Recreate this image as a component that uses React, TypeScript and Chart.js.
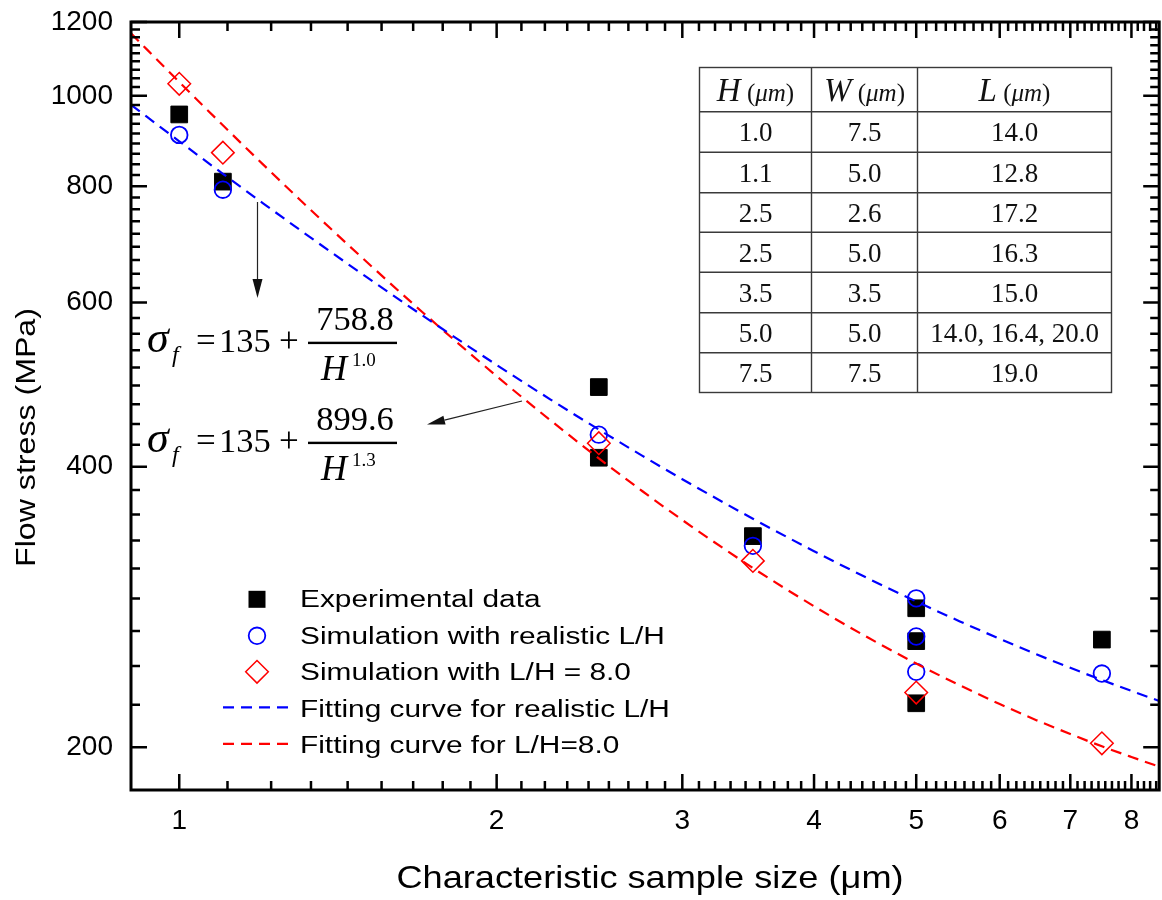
import React, { useEffect, useRef } from 'react';
import { Chart, registerables } from 'chart.js';

Chart.register(...registerables);

// ---------- data ----------
const experimentalH = [1, 1.1, 2.5, 2.5, 3.5, 5, 5, 5, 7.5];
const experimentalStress = [955, 809, 487, 409, 337, 282, 260, 223, 261];

const simRealisticH = [1, 1.1, 2.5, 3.5, 5, 5, 5, 7.5];
const simRealisticStress = [908, 793, 433, 329, 289, 263, 241, 240];

const simLH8H = [1, 1.1, 2.5, 3.5, 5, 7.5];
const simLH8Stress = [1030, 869, 424, 317, 229, 202];

const fitH = [0.9, 1.0, 1.1, 1.2, 1.3, 1.4, 1.5, 1.7, 2.0, 2.25, 2.5, 2.75, 3.0, 3.5, 4.0, 4.5, 5.0, 5.5, 6.0, 6.5, 7.0, 7.5, 8.0, 8.5];
const fitRealisticStress = [978.1, 893.8, 824.8, 767.3, 718.7, 677.0, 640.9, 581.4, 514.4, 472.2, 438.5, 410.9, 387.9, 351.8, 324.7, 303.6, 286.8, 273.0, 261.5, 251.7, 243.4, 236.2, 229.9, 224.3];
const fitLH8Stress = [1166.7, 1034.6, 929.8, 844.7, 774.6, 715.9, 666.1, 586.3, 500.3, 448.5, 408.4, 376.5, 350.7, 311.5, 283.4, 262.3, 246.0, 233.1, 222.6, 213.9, 206.7, 200.5, 195.3, 190.7];

const xMajorTicks = [1, 2, 3, 4, 5, 6, 7, 8];
const yMajorTicks = [200, 400, 600, 800, 1000, 1200];
const xMin = 0.9, xMax = 8.5;
const yMin = 180, yMax = 1200;

const xTitle = 'Characteristic sample size (\u03BCm)';
const yTitle = 'Flow stress (MPa)';

const legendLabels = [
  'Experimental data',
  'Simulation with realistic L/H',
  'Simulation with L/H = 8.0',
  'Fitting curve for realistic L/H',
  'Fitting curve for L/H=8.0',
];

const tableHeaderLetters = ['H', 'W', 'L'];
const tableColH = ['1.0', '1.1', '2.5', '2.5', '3.5', '5.0', '7.5'];
const tableColW = ['7.5', '5.0', '2.6', '5.0', '3.5', '5.0', '7.5'];
const tableColL = ['14.0', '12.8', '17.2', '16.3', '15.0', '14.0, 16.4, 20.0', '19.0'];

const eqConstant = '135';
const eqNumerators = ['758.8', '899.6'];
const eqExponents = ['1.0', '1.3'];

// ---------- style ----------
const SANS = '"Liberation Sans", Arial, sans-serif';
const SERIF = '"Liberation Serif", "Times New Roman", serif';
const BLUE = '#0000FF';
const RED = '#FF0000';

function minorTicks(majors: number[], lo: number, hi: number): number[] {
  const out: number[] = [];
  const step = majors[1] - majors[0];
  const first = majors[0] - step;
  const last = majors[majors.length - 1];
  for (let m = first; m <= last + 1e-9; m += step) {
    for (let k = 1; k <= 8; k++) {
      const v = m + (k * step) / 9;
      if (v > lo && v < hi) out.push(v);
    }
  }
  return out;
}

function stretchText(ctx: CanvasRenderingContext2D, text: string, x: number, y: number, sx: number, align: CanvasTextAlign) {
  ctx.save();
  ctx.translate(x, y);
  ctx.scale(sx, 1);
  ctx.textAlign = align;
  ctx.fillText(text, 0, 0);
  ctx.restore();
}

function drawArrow(ctx: CanvasRenderingContext2D, x1: number, y1: number, x2: number, y2: number, len: number, half: number) {
  const a = Math.atan2(y2 - y1, x2 - x1);
  const bx = x2 - len * Math.cos(a);
  const by = y2 - len * Math.sin(a);
  ctx.beginPath();
  ctx.moveTo(x1, y1);
  ctx.lineTo(bx, by);
  ctx.stroke();
  ctx.beginPath();
  ctx.moveTo(x2, y2);
  ctx.lineTo(bx + half * Math.sin(a), by - half * Math.cos(a));
  ctx.lineTo(bx - half * Math.sin(a), by + half * Math.cos(a));
  ctx.closePath();
  ctx.fill();
}

function drawEquation(ctx: CanvasRenderingContext2D, num: string, exp: string, dy: number) {
  ctx.fillStyle = '#000';
  ctx.textBaseline = 'alphabetic';
  ctx.textAlign = 'left';
  ctx.font = `italic 44px ${SERIF}`;
  ctx.fillText('\u03C3', 147, 352 + dy);
  ctx.font = `italic 24px ${SERIF}`;
  ctx.fillText('f', 172, 362 + dy);
  ctx.font = `35px ${SERIF}`;
  ctx.fillText('=', 196, 352 + dy);
  ctx.font = `34.5px ${SERIF}`;
  ctx.fillText(eqConstant, 219, 352 + dy);
  ctx.font = `35px ${SERIF}`;
  ctx.fillText('+', 279, 352 + dy);
  ctx.fillRect(308, 341.7 + dy, 89, 2.4);
  ctx.textAlign = 'center';
  ctx.font = `34.5px ${SERIF}`;
  ctx.fillText(num, 355, 330 + dy);
  ctx.textAlign = 'left';
  ctx.font = `italic 36px ${SERIF}`;
  ctx.fillText('H', 321, 380 + dy);
  ctx.font = `19px ${SERIF}`;
  ctx.fillText(exp, 352, 366 + dy);
}

function drawHeader(ctx: CanvasRenderingContext2D, letter: string, cx: number, baseline: number) {
  const parts = [
    { t: letter, f: `italic 33px ${SERIF}` },
    { t: ' (', f: `25px ${SERIF}` },
    { t: '\u03BCm', f: `italic 25px ${SERIF}` },
    { t: ')', f: `25px ${SERIF}` },
  ];
  let total = 0;
  const widths = parts.map((p) => {
    ctx.font = p.f;
    const w = ctx.measureText(p.t).width;
    total += w;
    return w;
  });
  let x = cx - total / 2;
  ctx.textAlign = 'left';
  parts.forEach((p, i) => {
    ctx.font = p.f;
    ctx.fillText(p.t, x, baseline);
    x += widths[i];
  });
}

const decorPlugin = {
  id: 'decor',
  afterDraw(chart: any) {
    const { ctx, chartArea: a, scales } = chart;
    const xs = scales.x;
    const ys = scales.y;
    ctx.save();

    // ticks (inward, all four sides)
    ctx.strokeStyle = '#000';
    ctx.lineWidth = 2.5;
    ctx.lineCap = 'butt';
    const xMinor = minorTicks(xMajorTicks, xMin, xMax);
    const yMinor = minorTicks(yMajorTicks, yMin, yMax);
    const vTick = (v: number, len: number) => {
      const p = xs.getPixelForValue(v);
      ctx.beginPath();
      ctx.moveTo(p, a.bottom);
      ctx.lineTo(p, a.bottom - len);
      ctx.moveTo(p, a.top);
      ctx.lineTo(p, a.top + len);
      ctx.stroke();
    };
    const hTick = (v: number, len: number) => {
      const p = ys.getPixelForValue(v);
      ctx.beginPath();
      ctx.moveTo(a.left, p);
      ctx.lineTo(a.left + len, p);
      ctx.moveTo(a.right, p);
      ctx.lineTo(a.right - len, p);
      ctx.stroke();
    };
    xMajorTicks.forEach((v) => vTick(v, 16));
    xMinor.forEach((v) => vTick(v, 9));
    yMajorTicks.forEach((v) => hTick(v, 16));
    yMinor.forEach((v) => hTick(v, 9));

    // frame
    ctx.lineWidth = 3;
    ctx.strokeRect(a.left, a.top, a.right - a.left, a.bottom - a.top);

    // axis titles
    ctx.fillStyle = '#000';
    ctx.textBaseline = 'alphabetic';
    ctx.font = `32px ${SANS}`;
    stretchText(ctx, xTitle, 650, 888, 1.13, 'center');
    ctx.save();
    ctx.translate(35, 437.5);
    ctx.rotate(-Math.PI / 2);
    ctx.font = `27px ${SANS}`;
    stretchText(ctx, yTitle, 0, 0, 1.19, 'center');
    ctx.restore();

    // legend
    const mx = 257;
    const rows = [607.3, 643.8, 680.3, 716.8, 753.3];
    ctx.font = `23.5px ${SANS}`;
    rows.forEach((b, i) => {
      ctx.fillStyle = '#000';
      stretchText(ctx, legendLabels[i], 300, b, 1.27, 'left');
    });
    ctx.fillStyle = '#000';
    ctx.fillRect(mx - 8.5, rows[0] - 8 - 8.5, 17, 17);
    ctx.strokeStyle = BLUE;
    ctx.lineWidth = 1.8;
    ctx.beginPath();
    ctx.arc(mx, rows[1] - 8, 8.3, 0, Math.PI * 2);
    ctx.stroke();
    ctx.strokeStyle = RED;
    ctx.lineWidth = 1.5;
    const dyc = rows[2] - 8.5;
    ctx.beginPath();
    ctx.moveTo(mx, dyc - 11.3);
    ctx.lineTo(mx + 11.3, dyc);
    ctx.lineTo(mx, dyc + 11.3);
    ctx.lineTo(mx - 11.3, dyc);
    ctx.closePath();
    ctx.stroke();
    ctx.lineWidth = 2.2;
    ctx.setLineDash([11, 7]);
    ctx.strokeStyle = BLUE;
    ctx.beginPath();
    ctx.moveTo(223, rows[3] - 9.5);
    ctx.lineTo(289, rows[3] - 9.5);
    ctx.stroke();
    ctx.strokeStyle = RED;
    ctx.beginPath();
    ctx.moveTo(223, rows[4] - 9.5);
    ctx.lineTo(289, rows[4] - 9.5);
    ctx.stroke();
    ctx.setLineDash([]);

    // arrows
    ctx.strokeStyle = '#222';
    ctx.fillStyle = '#111';
    ctx.lineWidth = 1.2;
    drawArrow(ctx, 257.5, 202, 257.5, 298, 19, 5);
    drawArrow(ctx, 522, 401, 427, 424.5, 18, 4.5);

    // equations
    drawEquation(ctx, eqNumerators[0], eqExponents[0], 0);
    drawEquation(ctx, eqNumerators[1], eqExponents[1], 100);

    // table
    const tl = 699.5, tr = 1111.5, tt = 67.5, tb = 392.5;
    const colX = [tl, 811.5, 917.5, tr];
    const rowY = [tt, 111.7, 152.3, 192.7, 232.3, 272.3, 312.7, 352.7, tb];
    ctx.fillStyle = '#fff';
    ctx.fillRect(tl, tt, tr - tl, tb - tt);
    ctx.strokeStyle = '#3a3a3a';
    ctx.lineWidth = 1.4;
    ctx.strokeRect(tl, tt, tr - tl, tb - tt);
    ctx.beginPath();
    [colX[1], colX[2]].forEach((cx) => {
      ctx.moveTo(cx, tt);
      ctx.lineTo(cx, tb);
    });
    rowY.slice(1, -1).forEach((ry) => {
      ctx.moveTo(tl, ry);
      ctx.lineTo(tr, ry);
    });
    ctx.stroke();
    ctx.fillStyle = '#111';
    ctx.textBaseline = 'alphabetic';
    const centers = [(colX[0] + colX[1]) / 2, (colX[1] + colX[2]) / 2, (colX[2] + colX[3]) / 2];
    tableHeaderLetters.forEach((l, i) => drawHeader(ctx, l, centers[i], 101));
    ctx.font = `27px ${SERIF}`;
    ctx.textAlign = 'center';
    const cols = [tableColH, tableColW, tableColL];
    for (let r = 0; r < tableColH.length; r++) {
      const base = rowY[r + 1] + 29.5;
      cols.forEach((col, c) => ctx.fillText(col[r], centers[c], base));
    }

    ctx.restore();
  },
};

const pts = (xs: number[], ys: number[]) => xs.map((x, i) => ({ x, y: ys[i] }));

export default function App() {
  const ref = useRef<HTMLCanvasElement>(null);
  useEffect(() => {
    const canvas = ref.current;
    if (!canvas) return;
    const chart = new Chart(canvas, {
      type: 'scatter',
      data: {
        datasets: [
          {
            label: legendLabels[3],
            data: pts(fitH, fitRealisticStress),
            showLine: true,
            borderColor: BLUE,
            borderWidth: 2.2,
            borderDash: [11, 7],
            pointRadius: 0,
            cubicInterpolationMode: 'monotone',
            order: 0,
          },
          {
            label: legendLabels[4],
            data: pts(fitH, fitLH8Stress),
            showLine: true,
            borderColor: RED,
            borderWidth: 2.2,
            borderDash: [11, 7],
            pointRadius: 0,
            cubicInterpolationMode: 'monotone',
            order: 0,
          },
          {
            label: legendLabels[2],
            data: pts(simLH8H, simLH8Stress),
            pointStyle: 'rectRot',
            pointRadius: 11.3,
            backgroundColor: 'rgba(0,0,0,0)',
            borderColor: RED,
            pointBorderWidth: 1.5,
            order: 1,
          },
          {
            label: legendLabels[1],
            data: pts(simRealisticH, simRealisticStress),
            pointStyle: 'circle',
            pointRadius: 8.3,
            backgroundColor: 'rgba(0,0,0,0)',
            borderColor: BLUE,
            pointBorderWidth: 1.8,
            order: 2,
          },
          {
            label: legendLabels[0],
            data: pts(experimentalH, experimentalStress),
            pointStyle: 'rect',
            pointRadius: 11.8,
            backgroundColor: '#000',
            borderColor: '#000',
            pointBorderWidth: 1,
            order: 3,
          },
        ],
      },
      options: {
        animation: false,
        responsive: false,
        events: [],
        layout: { padding: { top: 22, right: 9, left: 0, bottom: 0 } },
        plugins: { legend: { display: false }, tooltip: { enabled: false } },
        scales: {
          x: {
            type: 'logarithmic',
            position: 'bottom',
            min: xMin,
            max: xMax,
            bounds: 'data',
            grid: { display: false, drawTicks: false },
            border: { display: false },
            ticks: {
              font: { family: SANS, size: 28 },
              color: '#000',
              padding: 14,
              autoSkip: false,
              maxRotation: 0,
              callback: (v: any) => String(v),
            },
            afterBuildTicks: (s: any) => {
              s.ticks = xMajorTicks.map((value) => ({ value }));
            },
            afterFit: (s: any) => {
              s.height = 110;
              s.paddingLeft = 0;
              s.paddingRight = 0;
              s.paddingTop = 0;
              s.paddingBottom = 0;
            },
          },
          y: {
            type: 'logarithmic',
            position: 'left',
            min: yMin,
            max: yMax,
            bounds: 'data',
            grid: { display: false, drawTicks: false },
            border: { display: false },
            ticks: {
              font: { family: SANS, size: 28 },
              color: '#000',
              padding: 18,
              autoSkip: false,
              callback: (v: any) => String(v),
            },
            afterBuildTicks: (s: any) => {
              s.ticks = yMajorTicks.map((value) => ({ value }));
            },
            afterFit: (s: any) => {
              s.width = 131;
              s.paddingLeft = 0;
              s.paddingRight = 0;
              s.paddingTop = 0;
              s.paddingBottom = 0;
            },
          },
        },
      } as any,
      plugins: [decorPlugin],
    });
    return () => chart.destroy();
  }, []);

  return (
    <div style={{ position: 'fixed', left: 0, top: 0, width: 1162, height: 900, overflow: 'hidden', background: '#fff' }}>
      <canvas ref={ref} width={1172} height={900} style={{ display: 'block', width: 1172, height: 900 }} />
    </div>
  );
}
